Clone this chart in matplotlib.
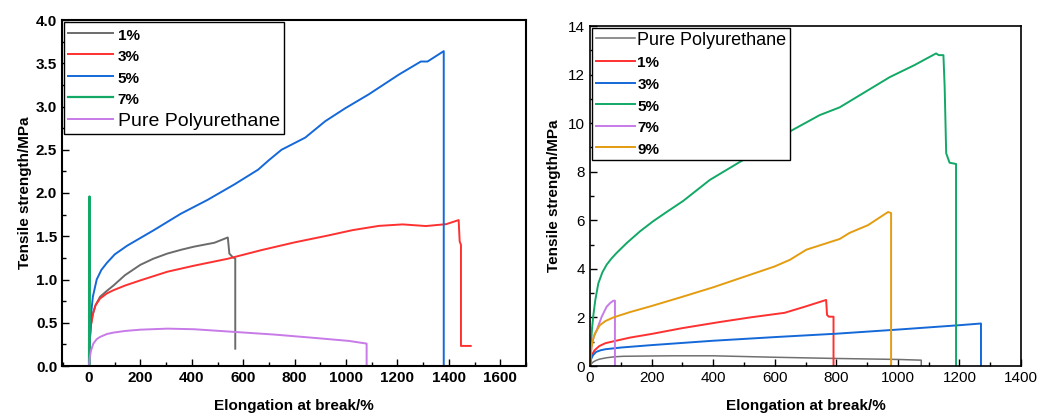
import matplotlib.pyplot as plt
from matplotlib.ticker import MultipleLocator

plt.rcParams["font.family"] = ["Liberation Sans", "DejaVu Sans"]

# Left panel: stress-strain curves, filler content 1-7 % plus neat PU
L_PCT1_X = [0, 3, 8, 15, 25, 43, 70, 95, 140, 200, 250, 305, 360, 409, 488, 540, 546,
            560, 569, 569]
L_PCT1_Y = [0, 0.30, 0.48, 0.60, 0.70, 0.80, 0.87, 0.93, 1.05, 1.17, 1.24, 1.30, 1.345,
            1.38, 1.425, 1.486, 1.30, 1.255, 1.243, 0.20]

L_PCT3_X = [0, 3, 8, 15, 25, 43, 70, 95, 140, 200, 305, 409, 540, 671, 801, 932, 1024,
            1128, 1220, 1311, 1390, 1438, 1442, 1447, 1447, 1485]
L_PCT3_Y = [0, 0.30, 0.48, 0.60, 0.70, 0.78, 0.84, 0.876, 0.93, 0.99, 1.09, 1.16, 1.24,
            1.34, 1.43, 1.51, 1.57, 1.62, 1.637, 1.618, 1.64, 1.687, 1.44, 1.40, 0.232,
            0.232]

L_PCT5_X = [0, 3, 8, 15, 30, 48, 69, 100, 148, 200, 252, 357, 461, 566, 658, 700, 749,
            841, 919, 997, 1088, 1206, 1291, 1317, 1380, 1380]
L_PCT5_Y = [0, 0.35, 0.60, 0.80, 1.00, 1.11, 1.19, 1.29, 1.39, 1.48, 1.57, 1.76, 1.92,
            2.10, 2.27, 2.38, 2.50, 2.64, 2.83, 2.98, 3.14, 3.37, 3.52, 3.52, 3.64, 0]

L_PCT7_X = [0, 1, 2, 2]
L_PCT7_Y = [0, 1.0, 1.96, 0]

L_PURE_X = [0, 3, 8, 17, 30, 43, 70, 95, 140, 200, 305, 409, 566, 723, 880, 1011, 1080,
            1080]
L_PURE_Y = [0, 0.10, 0.18, 0.26, 0.31, 0.336, 0.37, 0.386, 0.405, 0.42, 0.432, 0.425,
            0.394, 0.363, 0.324, 0.29, 0.259, 0]

# Right panel: neat PU and filler content 1-9 %
R_PURE_X = [0, 5, 11, 20, 30, 54, 80, 108, 180, 270, 400, 600, 800, 1000, 1076, 1076]
R_PURE_Y = [0, 0.10, 0.17, 0.23, 0.28, 0.34, 0.38, 0.40, 0.41, 0.42, 0.42, 0.36, 0.31,
            0.27, 0.24, 0]

R_PCT1_X = [0, 3, 8, 15, 30, 50, 81, 130, 200, 300, 416, 520, 632, 700, 767, 770, 776,
            791, 791]
R_PCT1_Y = [0, 0.30, 0.50, 0.65, 0.82, 0.94, 1.03, 1.17, 1.32, 1.56, 1.80, 2.00, 2.19,
            2.45, 2.72, 2.10, 2.03, 2.03, 0]

R_PCT3_X = [0, 4, 10, 20, 35, 50, 100, 200, 400, 600, 800, 1000, 1200, 1270, 1270]
R_PCT3_Y = [0, 0.30, 0.45, 0.58, 0.65, 0.69, 0.76, 0.86, 1.04, 1.19, 1.33, 1.50, 1.68,
            1.75, 0]

R_PCT5_X = [0, 3, 7, 11, 17, 27, 40, 54, 70, 86, 119, 162, 205, 250, 303, 389, 497, 638,
            746, 811, 973, 1054, 1124, 1133, 1148, 1152, 1157, 1168, 1189, 1189]
R_PCT5_Y = [0, 0.9, 1.6, 2.1, 2.7, 3.40, 3.85, 4.17, 4.43, 4.65, 5.06, 5.54, 5.96, 6.35,
            6.80, 7.66, 8.48, 9.58, 10.33, 10.65, 11.89, 12.39, 12.87, 12.80, 12.80, 11.5,
            8.76, 8.37, 8.32, 0]

R_PCT7_X = [0, 2, 5, 12, 22, 38, 54, 66, 76, 81, 81]
R_PCT7_Y = [0, 0.40, 0.80, 1.20, 1.48, 2.03, 2.44, 2.60, 2.69, 2.69, 0]

R_PCT9_X = [0, 2, 5, 10, 16, 32, 50, 76, 130, 200, 300, 400, 500, 600, 649, 703, 811, 843,
            903, 968, 978, 978]
R_PCT9_Y = [0, 0.45, 0.79, 1.10, 1.34, 1.68, 1.85, 2.00, 2.22, 2.47, 2.85, 3.24, 3.67,
            4.10, 4.37, 4.79, 5.23, 5.48, 5.80, 6.34, 6.30, 0]

GRAY = "#6b6b6b"
RED = "#ff3030"
BLUE = "#1468d8"
GREEN = "#12a866"
PURPLE = "#c77ae8"
ORANGE = "#e49c10"


def style_axis(ax, spine_width):
    for spine in ax.spines.values():
        spine.set_linewidth(spine_width)
    ax.tick_params(which="both", direction="in", top=False, right=False)
    ax.tick_params(which="major", length=5, width=1)
    ax.tick_params(which="minor", length=3, width=1)


def legend_box(ax, handles, labels, bold_flags, handlelength, textpad, size, spacing):
    leg = ax.legend(handles, labels, loc="upper left", frameon=True, fancybox=False,
                    borderaxespad=0.12, handlelength=handlelength,
                    handletextpad=textpad, labelspacing=spacing, borderpad=0.2,
                    prop={"size": size})
    leg.get_frame().set_edgecolor("black")
    leg.get_frame().set_linewidth(1.0)
    leg.get_frame().set_alpha(1)
    for text, bold in zip(leg.get_texts(), bold_flags):
        if bold:
            text.set_fontweight("bold")
            text.set_fontsize(11)
    return leg


fig = plt.figure(figsize=(10.38, 4.13), dpi=100)

# ---- left panel ----
ax1 = fig.add_axes([62 / 1038, 47 / 413, 464 / 1038, 346 / 413])
h1 = ax1.plot(L_PCT1_X, L_PCT1_Y, color=GRAY, lw=1.4)[0]
h3 = ax1.plot(L_PCT3_X, L_PCT3_Y, color=RED, lw=1.4)[0]
h5 = ax1.plot(L_PCT5_X, L_PCT5_Y, color=BLUE, lw=1.4)[0]
h7 = ax1.plot(L_PCT7_X, L_PCT7_Y, color=GREEN, lw=1.6)[0]
hp = ax1.plot(L_PURE_X, L_PURE_Y, color=PURPLE, lw=1.4)[0]

ax1.set_xlim(-105, 1700)
ax1.set_ylim(0, 4.0)
ax1.set_xticks(range(0, 1601, 200))
ax1.xaxis.set_minor_locator(MultipleLocator(100))
ax1.yaxis.set_major_locator(MultipleLocator(0.5))
ax1.yaxis.set_minor_locator(MultipleLocator(0.25))
ax1.yaxis.set_major_formatter(lambda v, p: f"{v:.1f}")
style_axis(ax1, 1.5)
for lab in ax1.get_xticklabels() + ax1.get_yticklabels():
    lab.set_fontweight("bold")
    lab.set_fontsize(11)
ax1.set_xlabel("Elongation at break/%", fontsize=11, fontweight="bold", labelpad=10)
ax1.set_ylabel("Tensile strength/MPa", fontsize=11, fontweight="bold", labelpad=3)
legend_box(ax1, [h1, h3, h5, h7, hp], ["1%", "3%", "5%", "7%", "Pure Polyurethane"],
           [True, True, True, True, False], 2.3, 0.25, 14, 0.25)

# ---- right panel ----
ax2 = fig.add_axes([590 / 1038, 47 / 413, 431 / 1038, 340 / 413])
g0 = ax2.plot(R_PURE_X, R_PURE_Y, color="#707070", lw=1.1)[0]
g1 = ax2.plot(R_PCT1_X, R_PCT1_Y, color=RED, lw=1.4)[0]
g3 = ax2.plot(R_PCT3_X, R_PCT3_Y, color=BLUE, lw=1.4)[0]
g5 = ax2.plot(R_PCT5_X, R_PCT5_Y, color=GREEN, lw=1.4)[0]
g7 = ax2.plot(R_PCT7_X, R_PCT7_Y, color=PURPLE, lw=1.4)[0]
g9 = ax2.plot(R_PCT9_X, R_PCT9_Y, color=ORANGE, lw=1.4)[0]

ax2.set_xlim(0, 1400)
ax2.set_ylim(0, 14)
ax2.xaxis.set_major_locator(MultipleLocator(200))
ax2.xaxis.set_minor_locator(MultipleLocator(100))
ax2.yaxis.set_major_locator(MultipleLocator(2))
ax2.yaxis.set_minor_locator(MultipleLocator(1))
style_axis(ax2, 1.2)
ax2.tick_params(labelsize=11)
ax2.set_xlabel("Elongation at break/%", fontsize=11, fontweight="bold", labelpad=10)
ax2.set_ylabel("Tensile strength/MPa", fontsize=11, fontweight="bold", labelpad=5)
legend_box(ax2, [g0, g1, g3, g5, g7, g9],
           ["Pure Polyurethane", "1%", "3%", "5%", "7%", "9%"],
           [False, True, True, True, True, True], 2.2, 0.1, 13, 0.33)

fig.savefig("out.png", dpi=100)
